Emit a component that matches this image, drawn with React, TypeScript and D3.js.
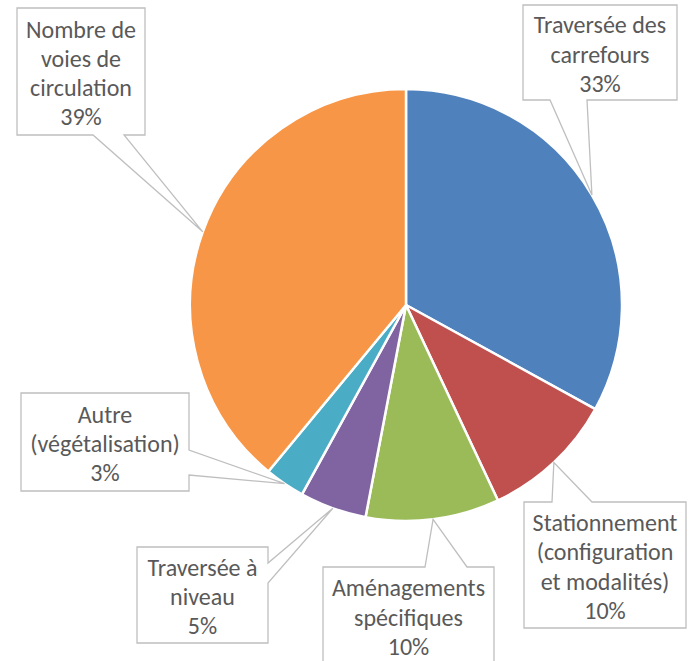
import React from "react";
import * as d3 from "d3";

const categories = [
  "Traversée des carrefours",
  "Stationnement (configuration et modalités)",
  "Aménagements spécifiques",
  "Traversée à niveau",
  "Autre (végétalisation)",
  "Nombre de voies de circulation",
];
const values = [33, 10, 10, 5, 3, 39];
const labelLines = [
  ["Traversée des", "carrefours"],
  ["Stationnement", "(configuration", "et modalités)"],
  ["Aménagements", "spécifiques"],
  ["Traversée à", "niveau"],
  ["Autre", "(végétalisation)"],
  ["Nombre de", "voies de", "circulation"],
];
const colors = ["#4F81BD", "#C0504D", "#9BBB59", "#8064A2", "#4BACC6", "#F79646"];

type Side = "top" | "bottom" | "left" | "right";
interface Box { x: number; y: number; w: number; h: number; side: Side; b1: number; b2: number; }
const boxes: Box[] = [
  { x: 523, y: 5, w: 154, h: 95, side: "bottom", b1: 550, b2: 587 },
  { x: 524, y: 502, w: 162, h: 126, side: "top", b1: 552, b2: 592 },
  { x: 323, y: 567, w: 171, h: 97, side: "top", b1: 425, b2: 467 },
  { x: 137, y: 547, w: 131, h: 96, side: "right", b1: 563, b2: 583 },
  { x: 21, y: 393, w: 168, h: 98, side: "right", b1: 450, b2: 475 },
  { x: 17, y: 8, w: 128, h: 127, side: "bottom", b1: 93, b2: 124 },
];

const W = 692, H = 661;
const cx = 406, cy = 305, R = 216;
const lineH = 29.3;

function calloutPath(b: Box, tx: number, ty: number): string {
  const { x, y, w, h, side, b1, b2 } = b;
  const x2 = x + w, y2 = y + h;
  const p: string[] = [`M${x},${y}`];
  if (side === "top") p.push(`L${b1},${y}`, `L${tx},${ty}`, `L${b2},${y}`);
  p.push(`L${x2},${y}`);
  if (side === "right") p.push(`L${x2},${b1}`, `L${tx},${ty}`, `L${x2},${b2}`);
  p.push(`L${x2},${y2}`);
  if (side === "bottom") p.push(`L${b2},${y2}`, `L${tx},${ty}`, `L${b1},${y2}`);
  p.push(`L${x},${y2}`);
  if (side === "left") p.push(`L${x},${b2}`, `L${tx},${ty}`, `L${x},${b1}`);
  p.push("Z");
  return p.join(" ");
}

export default function App() {
  const total = d3.sum(values);
  const pie = d3.pie<number>().sort(null).value((d) => d);
  const arcs = pie(values);
  const arc = d3.arc<d3.PieArcDatum<number>>().innerRadius(0).outerRadius(R);
  const edge = d3.arc<d3.PieArcDatum<number>>().innerRadius(R).outerRadius(R);
  const fmt = d3.format(".0%");

  return (
    <svg width={W} height={H} style={{ position: "absolute", left: 0, top: 0, background: "#fff" }}
      fontFamily="Carlito, Calibri, Lato, sans-serif">
      <g transform={`translate(${cx},${cy})`}>
        {arcs.map((a, i) => (
          <path key={categories[i]} d={arc(a) as string} fill={colors[i]} stroke="#fff" strokeWidth={2.5} strokeLinejoin="round" />
        ))}
      </g>
      {arcs.map((a, i) => {
        const [ex, ey] = edge.centroid(a);
        const b = boxes[i];
        const lines = [...labelLines[i], fmt(values[i] / total)];
        const midY = b.y + b.h / 2 + 1.5;
        const mx = b.x + b.w / 2;
        return (
          <g key={"c" + i}>
            <path d={calloutPath(b, cx + ex, cy + ey)} fill="#fff" stroke="#BFBFBF" strokeWidth={1.3} />
            <text textAnchor="middle" fill="#595959" fontSize={24}>
              {lines.map((l, j) => (
                <tspan key={j} x={mx} y={midY + (j - (lines.length - 1) / 2) * lineH} dominantBaseline="central">{l}</tspan>
              ))}
            </text>
          </g>
        );
      })}
    </svg>
  );
}
